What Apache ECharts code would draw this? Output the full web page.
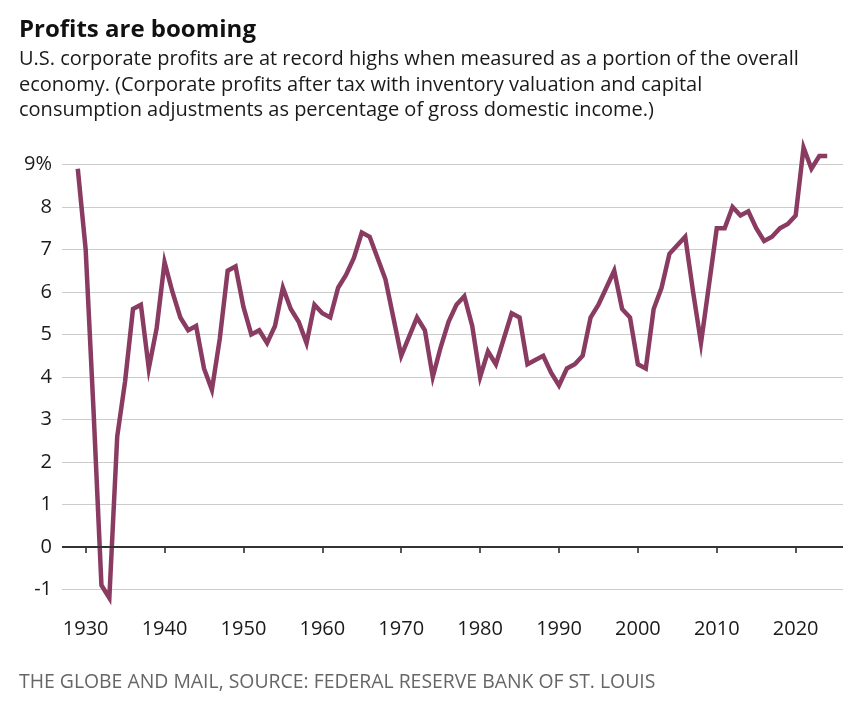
<!DOCTYPE html>
<html lang="en" style="height: 100%">
<head>
  <meta charset="utf-8">
  <title>Profits are booming</title>
</head>
<body style="height: 100%; margin: 0; background: #fff">
  <div id="container" style="height: 100%"></div>
  <script type="text/javascript" src="https://fastly.jsdelivr.net/npm/echarts@6.0.0/dist/echarts.min.js"></script>
  <script type="text/javascript">
    // corporate profits after tax (IVA, CCAdj) as % of GDI
    const years = [
      1929,
      1930, 1931, 1932, 1933, 1934, 1935, 1936, 1937, 1938, 1939,
      1940, 1941, 1942, 1943, 1944, 1945, 1946, 1947, 1948, 1949,
      1950, 1951, 1952, 1953, 1954, 1955, 1956, 1957, 1958, 1959,
      1960, 1961, 1962, 1963, 1964, 1965, 1966, 1967, 1968, 1969,
      1970, 1971, 1972, 1973, 1974, 1975, 1976, 1977, 1978, 1979,
      1980, 1981, 1982, 1983, 1984, 1985, 1986, 1987, 1988, 1989,
      1990, 1991, 1992, 1993, 1994, 1995, 1996, 1997, 1998, 1999,
      2000, 2001, 2002, 2003, 2004, 2005, 2006, 2007, 2008, 2009,
      2010, 2011, 2012, 2013, 2014, 2015, 2016, 2017, 2018, 2019,
      2020, 2021, 2022, 2023, 2024
    ];
    const profitShare = [
      8.9,
      7.0, 3.2, -0.9, -1.2, 2.6, 3.9, 5.6, 5.7, 4.2, 5.15,
      6.7, 6.0, 5.4, 5.1, 5.2, 4.2, 3.7, 4.9, 6.5, 6.6,
      5.65, 5.0, 5.1, 4.8, 5.2, 6.1, 5.6, 5.3, 4.8, 5.7,
      5.5, 5.4, 6.1, 6.4, 6.8, 7.4, 7.3, 6.8, 6.3, 5.4,
      4.5, 4.95, 5.4, 5.1, 4.0, 4.7, 5.3, 5.7, 5.9, 5.2,
      4.0, 4.6, 4.3, 4.9, 5.5, 5.4, 4.3, 4.4, 4.5, 4.1,
      3.8, 4.2, 4.3, 4.5, 5.4, 5.7, 6.1, 6.5, 5.6, 5.4,
      4.3, 4.2, 5.6, 6.1, 6.9, 7.1, 7.3, 6.0, 4.8, 6.15,
      7.5, 7.5, 8.0, 7.8, 7.9, 7.5, 7.2, 7.3, 7.5, 7.6,
      7.8, 9.4, 8.9, 9.2, 9.2
    ];
    const xTicks = [1930, 1940, 1950, 1960, 1970, 1980, 1990, 2000, 2010, 2020];

    const titleText = 'Profits are booming';
    const subLines = [
      'U.S. corporate profits are at record highs when measured as a portion of the overall',
      'economy. (Corporate profits after tax with inventory valuation and capital',
      'consumption adjustments as percentage of gross domestic income.)'
    ];
    const sourceText = 'THE GLOBE AND MAIL, SOURCE: FEDERAL RESERVE BANK OF ST. LOUIS';

    var dom = document.getElementById('container');
    var myChart = echarts.init(dom, null, { renderer: 'canvas' });

    const font = "'Open Sans', 'Noto Sans', sans-serif";
    const lineData = years.map((y, i) => [y, profitShare[i]]);

    var option = {
      animation: false,
      backgroundColor: '#fff',
      textStyle: { fontFamily: font },
      title: [
        {
          text: titleText,
          subtext: subLines.join('\n'),
          left: 19,
          top: 18,
          padding: 0,
          itemGap: 5,
          textStyle: { fontFamily: font, fontSize: 24, fontWeight: 'bold', color: '#111' },
          subtextStyle: { fontFamily: font, fontSize: 20, lineHeight: 25.5, color: '#1a1a1a' }
        },
        {
          text: sourceText,
          left: 19,
          top: 673,
          padding: 0,
          textStyle: { fontFamily: font, fontSize: 19.4, fontWeight: 'normal', color: '#666' }
        }
      ],
      grid: {
        left: 62,
        right: 11,
        top: 164.5,
        height: 425
      },
      xAxis: {
        type: 'value',
        min: 1927,
        max: 2026,
        offset: 9,
        axisLine: { show: false },
        splitLine: { show: false },
        axisTick: {
          show: true,
          length: 6,
          customValues: xTicks,
          lineStyle: { color: '#222', width: 1.5 }
        },
        axisLabel: {
          customValues: xTicks,
          margin: 21,
          fontSize: 20,
          color: '#1a1a1a',
          fontFamily: font,
          formatter: v => String(v)
        }
      },
      yAxis: {
        type: 'value',
        min: -1,
        max: 9,
        interval: 1,
        axisLine: { show: false },
        axisTick: { show: false },
        axisLabel: {
          margin: 10,
          fontSize: 20,
          color: '#1a1a1a',
          fontFamily: font,
          formatter: v => (v === 9 ? '9%' : String(v))
        },
        splitLine: { lineStyle: { color: '#cccccc', width: 1.2 } }
      },
      series: [
        {
          type: 'line',
          data: lineData,
          showSymbol: false,
          clip: false,
          lineStyle: { color: '#8a3b61', width: 4.5, join: 'miter' },
          markLine: {
            silent: true,
            symbol: 'none',
            label: { show: false },
            lineStyle: { color: '#333', width: 2, type: 'solid' },
            data: [{ yAxis: 0 }]
          },
          z: 3
        }
      ]
    };

    myChart.setOption(option);
    window.addEventListener('resize', myChart.resize);
  </script>
</body>
</html>
